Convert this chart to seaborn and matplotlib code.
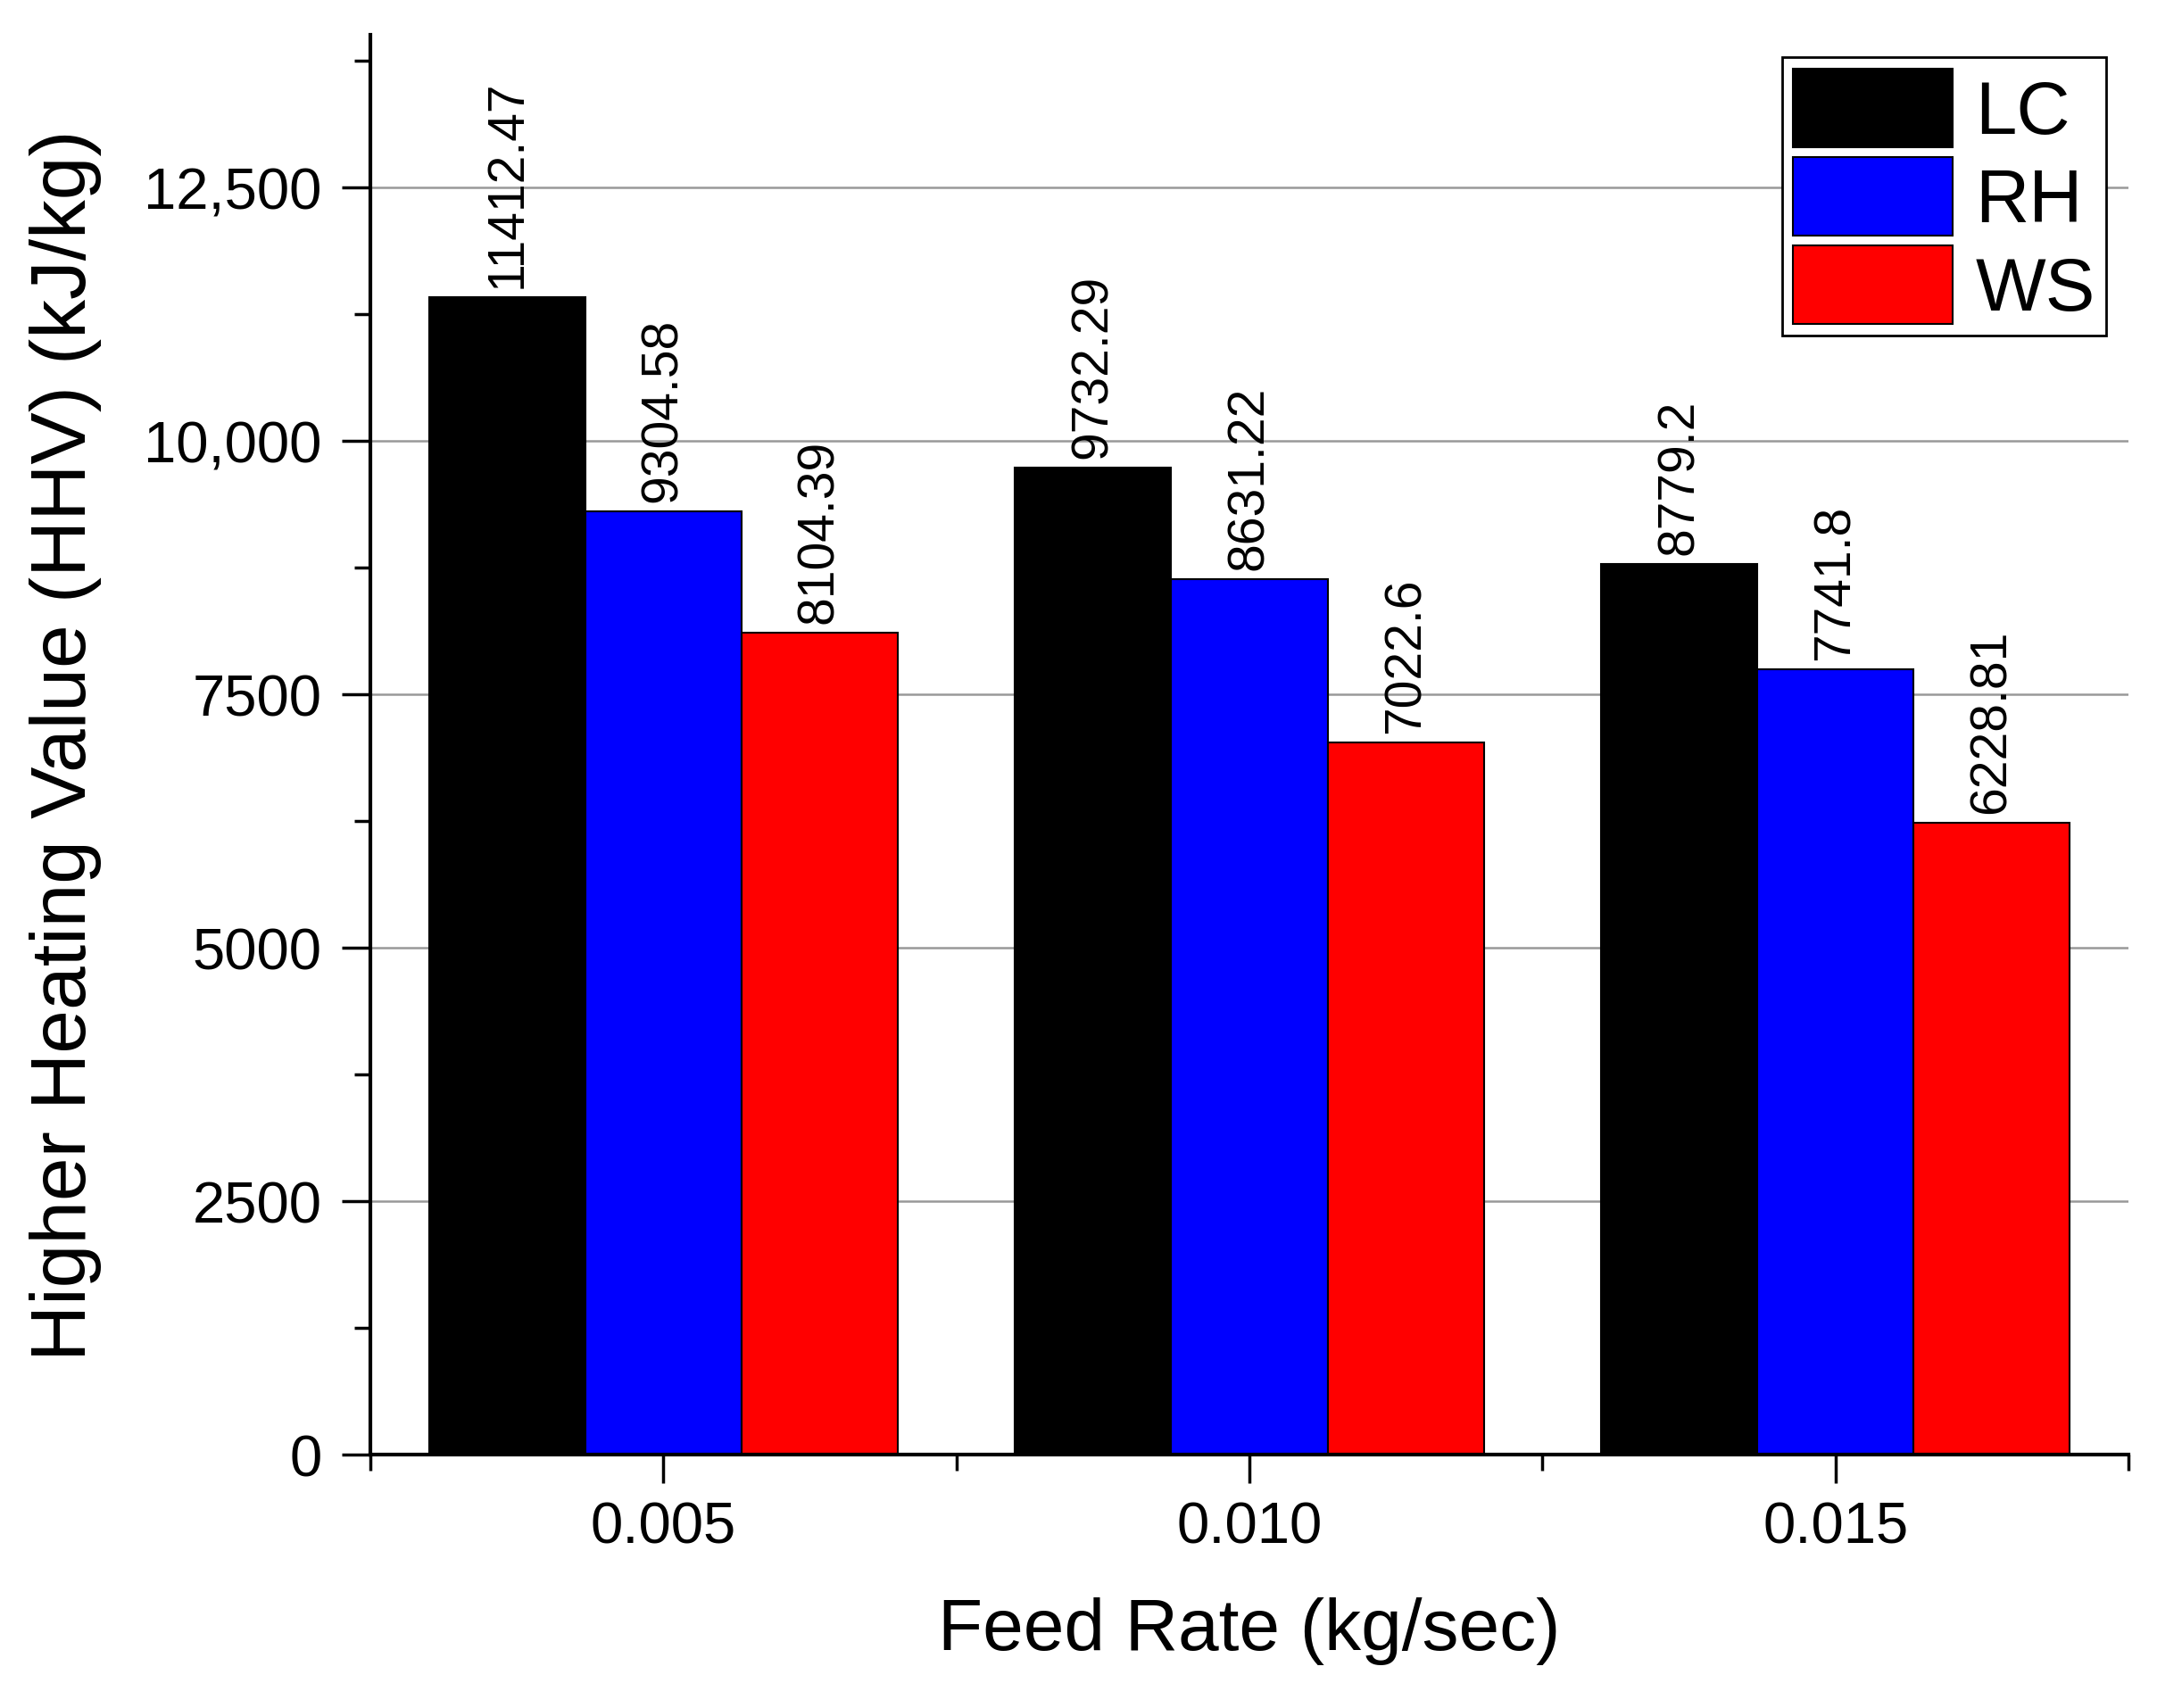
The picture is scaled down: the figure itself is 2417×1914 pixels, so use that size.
import pandas as pd
import matplotlib
matplotlib.use('Agg')
import matplotlib.pyplot as plt
from matplotlib.ticker import FixedLocator, FuncFormatter
import seaborn as sns

# Datos
feed_rates = ['0.005', '0.010', '0.015']
fuels = ['LC', 'RH', 'WS']
lc_values = [11412.47, 9732.29, 8779.2]
rh_values = [9304.58, 8631.22, 7741.8]
ws_values = [8104.39, 7022.6, 6228.81]
bar_colors = ['#000000', '#0000ff', '#ff0000']

df = pd.DataFrame({
    'Feed': feed_rates * 3,
    'Fuel': [f for f in fuels for _ in feed_rates],
    'HHV': lc_values + rh_values + ws_values,
})

sns.set_style('ticks')
plt.rcParams['font.family'] = ['Liberation Sans', 'DejaVu Sans']
plt.rcParams.update({'text.color': 'black', 'axes.labelcolor': 'black',
                     'xtick.color': 'black', 'ytick.color': 'black'})

fig, ax = plt.subplots(figsize=(24.17, 19.15), dpi=100)
fig.subplots_adjust(left=0.1717, right=0.9868, bottom=0.1483, top=0.979)

sns.barplot(data=df, x='Feed', y='HHV', hue='Fuel', order=feed_rates, hue_order=fuels,
            palette=bar_colors, edgecolor='black', linewidth=1.5, width=0.8,
            saturation=1, ax=ax)

# Etiquetas de valor sobre cada barra
for container, vals in zip(ax.containers, [lc_values, rh_values, ws_values]):
    ax.bar_label(container, labels=[str(v) for v in vals], rotation=90,
                 padding=8, fontsize=41, color='black')

ax.set_xlim(-0.5, 2.5)
ax.set_ylim(0, 14000)

ax.yaxis.set_major_locator(FixedLocator([0, 2500, 5000, 7500, 10000, 12500]))
ax.yaxis.set_minor_locator(FixedLocator([1250, 3750, 6250, 8750, 11250, 13750]))
ax.yaxis.set_major_formatter(FuncFormatter(
    lambda v, p: f'{v:,.0f}' if v >= 10000 else f'{v:.0f}'))
ax.xaxis.set_minor_locator(FixedLocator([-0.5, 0.5, 1.5, 2.5]))

ax.grid(axis='y', which='major', color='#999999', linewidth=1.8)
ax.set_axisbelow(True)

for side in ['top', 'right']:
    ax.spines[side].set_visible(False)
for side in ['left', 'bottom']:
    ax.spines[side].set_linewidth(3)
    ax.spines[side].set_color('black')

ax.tick_params(axis='both', which='major', direction='out', length=23, width=2.5,
               labelsize=47, color='black', labelcolor='black')
ax.tick_params(axis='both', which='minor', direction='out', length=13, width=2.5,
               color='black')
ax.tick_params(axis='x', which='major', pad=14)
ax.tick_params(axis='y', which='major', pad=16)

ax.set_xlabel('Feed Rate (kg/sec)', fontsize=59, labelpad=34, color='black')
ax.set_ylabel('Higher Heating Value (HHV) (kJ/kg)', fontsize=63, labelpad=34,
              color='black')

handles, labels = ax.get_legend_handles_labels()
leg = ax.legend(handles, labels, loc='upper right', fontsize=60, frameon=True,
                fancybox=False, framealpha=1, edgecolor='black',
                handlelength=2.15, handleheight=1.25, handletextpad=0.3,
                labelspacing=0.12, borderpad=0.15, borderaxespad=0.3)
leg.get_frame().set_linewidth(2)
for t in leg.get_texts():
    t.set_color('black')

plt.savefig('out.png', dpi=100)
plt.close()
